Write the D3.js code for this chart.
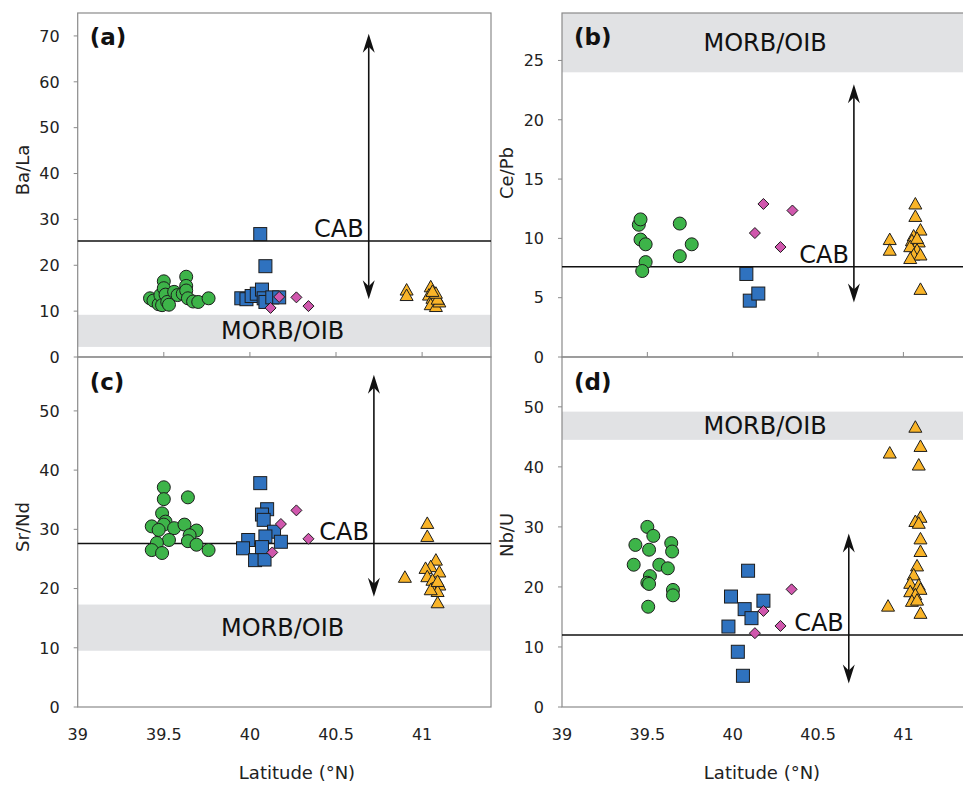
<!DOCTYPE html>
<html>
<head>
<meta charset="utf-8">
<script src="https://cdn.jsdelivr.net/npm/d3@7"></script>
<style>
  body { margin: 0; background: #fff; }
  svg { display: block; font-family: "DejaVu Sans", Verdana, sans-serif; }
</style>
</head>
<body>
<main></main>
<script>
// ---- data: [latitude, ratio] ----
const baLaGreen = [[39.42,12.8],[39.44,12.3],[39.47,11.5],[39.48,13.5],[39.49,11.3],[39.50,16.5],[39.50,15.0],[39.51,13.6],[39.52,12.0],[39.53,11.4],[39.56,14.2],[39.58,13.5],[39.61,13.8],[39.63,17.5],[39.63,15.5],[39.63,14.5],[39.64,12.8],[39.67,12.1],[39.70,12.0],[39.76,12.8]]
const baLaBlue = [[40.06,26.8],[40.09,19.8],[39.95,12.8],[39.98,12.6],[40.01,13.3],[40.04,13.8],[40.07,14.7],[40.08,12.8],[40.09,12.0],[40.13,13.0],[40.17,13.0]]
const baLaPink = [[40.12,10.7],[40.17,13.1],[40.27,13.0],[40.34,11.1]]
const baLaOrange = [[40.91,14.6],[40.91,13.4],[41.05,15.3],[41.04,13.5],[41.06,12.8],[41.07,12.2],[41.05,11.4],[41.08,11.0],[41.10,12.0],[41.09,12.6],[41.08,13.9],[41.06,14.3]]

const cePbGreen = [[39.45,11.15],[39.46,11.6],[39.46,9.9],[39.49,9.5],[39.49,8.0],[39.47,7.25],[39.69,11.25],[39.76,9.5],[39.69,8.5]]
const cePbBlue = [[40.08,7.0],[40.10,4.75],[40.15,5.35]]
const cePbPink = [[40.18,12.9],[40.13,10.45],[40.35,12.35],[40.28,9.27]]
const cePbOrange = [[40.92,9.9],[40.92,9.0],[41.07,12.9],[41.07,11.85],[41.10,10.7],[41.06,10.2],[41.05,9.8],[41.09,9.7],[41.04,9.3],[41.08,9.0],[41.06,8.6],[41.10,8.6],[41.04,8.3],[41.08,10.0],[41.10,5.7]]

const srNdGreen = [[39.50,37.1],[39.50,35.1],[39.64,35.4],[39.49,32.7],[39.51,31.3],[39.50,30.8],[39.43,30.5],[39.47,29.9],[39.56,30.2],[39.62,30.8],[39.69,29.8],[39.65,29.0],[39.53,28.2],[39.64,28.0],[39.46,27.7],[39.43,26.5],[39.49,26.0],[39.69,27.4],[39.76,26.5]]
const srNdBlue = [[40.06,37.8],[40.10,33.4],[40.07,32.5],[40.08,31.6],[40.14,29.6],[40.09,28.8],[40.18,27.9],[39.99,28.2],[39.96,26.8],[40.03,24.8],[40.085,24.9],[40.07,27.0]]
const srNdPink = [[40.27,33.2],[40.18,30.9],[40.34,28.4],[40.13,26.1]]
const srNdOrange = [[41.03,31.0],[41.03,28.8],[40.90,21.9],[41.08,24.8],[41.05,23.7],[41.02,23.4],[41.10,22.8],[41.03,22.0],[41.06,21.4],[41.10,20.6],[41.06,20.0],[41.09,19.5],[41.05,19.8],[41.09,21.2],[41.09,17.6]]

const nbUGreen = [[39.50,30.0],[39.535,28.5],[39.43,27.0],[39.64,27.3],[39.645,25.9],[39.51,26.2],[39.42,23.7],[39.57,23.7],[39.62,23.1],[39.515,21.8],[39.50,20.7],[39.51,20.5],[39.65,19.5],[39.65,18.6],[39.505,16.7]]
const nbUBlue = [[40.09,22.7],[39.99,18.4],[40.18,17.7],[40.07,16.3],[40.11,14.8],[39.975,13.4],[40.03,9.2],[40.06,5.2]]
const nbUPink = [[40.345,19.6],[40.18,16.0],[40.28,13.5],[40.13,12.3]]
const nbUOrange = [[41.07,46.6],[41.10,43.4],[40.92,42.3],[41.09,40.3],[41.10,31.6],[41.07,30.9],[41.09,30.6],[41.10,28.0],[41.10,25.9],[41.08,23.5],[41.06,22.0],[41.04,20.6],[41.09,20.3],[41.10,19.6],[41.04,19.2],[41.07,18.7],[41.05,17.6],[41.08,17.8],[41.10,15.6],[40.91,16.8]]

// reference values: CAB line, MORB/OIB band, arrow span [lat, from, to]
const cabValues = [25.3, 7.6, 27.6, 12.0]
const morbBands = [[2.2, 9.2], [24.0, 29], [9.5, 17.3], [44.5, 49.2]]
const arrowSpans = [[40.69, 70.5, 12.6], [40.71, 23.0, 4.6], [40.72, 56.1, 18.6], [40.68, 28.9, 3.9]]

const xTicks = [39, 39.5, 40, 40.5, 41]
const yTickSets = [d3.range(0, 71, 10), d3.range(0, 26, 5), d3.range(0, 51, 10), d3.range(0, 51, 10)]
const yMaxes = [75, 29, 59.1, 58.3]
const yTitles = ["Ba/La", "Ce/Pb", "Sr/Nd", "Nb/U"]
const panelLabels = ["(a)", "(b)", "(c)", "(d)"]

const colors = { green: "#3db449", blue: "#2f72bf", pink: "#d057ad", orange: "#f9b428" }

const W = 963, H = 785
const svg = d3.select("main").append("svg").attr("width", W).attr("height", H)

// plot boxes [left, right, top, bottom]
const boxes = [
  [77.7, 491, 13, 357],
  [562, 972, 13, 357],
  [77.7, 491, 357, 707],
  [562, 972, 357, 707],
]
const titleY = [170, 173, 527, 535]

const groups = [
  [baLaGreen, baLaBlue, baLaPink, baLaOrange],
  [cePbGreen, cePbBlue, cePbPink, cePbOrange],
  [srNdGreen, srNdBlue, srNdPink, srNdOrange],
  [nbUGreen, nbUBlue, nbUPink, nbUOrange],
]

const frameColor = "#8a8a8a"

boxes.forEach((b, i) => {
  const [l, r, t, btm] = b
  const x = d3.scaleLinear().domain([39, 41.4]).range([l, l + (r - l) * 1.0])
  // right panels are a bit wider than the page, so keep 41.4 at the same spacing
  if (i % 2 === 1) x.domain([39, 39 + (r - l) / 170.7])
  const y = d3.scaleLinear().domain([0, yMaxes[i]]).range([btm, t])
  const g = svg.append("g")

  // grey MORB/OIB band
  const band = morbBands[i]
  g.append("rect")
    .attr("x", l).attr("width", r - l)
    .attr("y", y(Math.min(band[1], yMaxes[i]))).attr("height", y(band[0]) - y(Math.min(band[1], yMaxes[i])))
    .attr("fill", "#e1e2e4")

  // frame
  g.append("rect")
    .attr("x", l).attr("y", t).attr("width", r - l).attr("height", btm - t)
    .attr("fill", "none").attr("stroke", frameColor).attr("stroke-width", 1.2)

  // y axis ticks + labels
  const yt = yTickSets[i]
  g.selectAll(".ytick").data(yt).enter().append("line")
    .attr("x1", l - 4).attr("x2", l)
    .attr("y1", (d) => y(d)).attr("y2", (d) => y(d))
    .attr("stroke", frameColor)
  g.selectAll(".ylab").data(yt).enter().append("text")
    .attr("x", l - 18).attr("y", (d) => y(d))
    .attr("dy", "0.36em")
    .attr("text-anchor", "end")
    .attr("font-size", "16px").attr("fill", "#222")
    .text((d) => d)

  // y title
  g.append("text")
    .attr("transform", `translate(${l - 55},${titleY[i]}) rotate(-90)`)
    .attr("text-anchor", "middle").attr("dy", "0.35em")
    .attr("font-size", "18px").attr("fill", "#222")
    .text(yTitles[i])

  // x ticks: small inward ticks on the upper panels, labels on the lower ones
  if (i < 2) {
    g.selectAll(".xtick").data(xTicks.slice(1)).enter().append("line")
      .attr("x1", (d) => x(d)).attr("x2", (d) => x(d))
      .attr("y1", btm - 5).attr("y2", btm)
      .attr("stroke", frameColor)
  } else {
    g.selectAll(".xlab").data(xTicks).enter().append("text")
      .attr("x", (d) => x(d)).attr("y", btm + 33)
      .attr("text-anchor", "middle")
      .attr("font-size", "16px").attr("fill", "#222")
      .text((d) => d)
    g.append("text")
      .attr("x", i === 2 ? 297 : 762).attr("y", 779)
      .attr("text-anchor", "middle")
      .attr("font-size", "18px").attr("fill", "#222")
      .text("Latitude (°N)")
  }

  // CAB line
  g.append("line")
    .attr("x1", l).attr("x2", r)
    .attr("y1", y(cabValues[i])).attr("y2", y(cabValues[i]))
    .attr("stroke", "#111").attr("stroke-width", 1.5)

  // double arrow
  const [al, a0, a1] = arrowSpans[i]
  const ax = x(al), ay0 = y(a0), ay1 = y(a1)
  g.append("line")
    .attr("x1", ax).attr("x2", ax).attr("y1", ay0 + 8).attr("y2", ay1 - 8)
    .attr("stroke", "#111").attr("stroke-width", 1.6)
  const head = (tipY, dir) =>
    `M${ax},${tipY} L${ax + 6},${tipY + dir * 19} L${ax},${tipY + dir * 13} L${ax - 6},${tipY + dir * 19} Z`
  g.append("path").attr("d", head(ay0, 1)).attr("fill", "#111")
  g.append("path").attr("d", head(ay1, -1)).attr("fill", "#111")

  // CAB text, right end just left of the arrow
  g.append("text")
    .attr("x", ax - 5).attr("y", y(cabValues[i]) - 4)
    .attr("text-anchor", "end")
    .attr("font-size", "24px").attr("fill", "#111")
    .text("CAB")

  // MORB/OIB text in the band
  const bandMid = (Math.max(y(Math.min(band[1], yMaxes[i])), t) + y(band[0])) / 2
  g.append("text")
    .attr("x", x(40.19)).attr("y", bandMid)
    .attr("dy", "0.36em")
    .attr("text-anchor", "middle")
    .attr("font-size", "24px").attr("fill", "#111")
    .text("MORB/OIB")

  // panel label
  g.append("text")
    .attr("x", l + 12).attr("y", t + (i < 2 ? 32 : 33))
    .attr("font-size", "23px").attr("font-weight", "bold").attr("fill", "#111")
    .text(panelLabels[i])

  // markers
  const [gr, bl, pk, orng] = groups[i]
  const pts = g.append("g").attr("stroke", "#1d1d1d").attr("stroke-width", 1)

  pts.selectAll(".green").data(gr).enter().append("circle")
    .attr("cx", (d) => x(d[0])).attr("cy", (d) => y(d[1])).attr("r", 6.5)
    .attr("fill", colors.green)

  pts.selectAll(".blue").data(bl).enter().append("rect")
    .attr("x", (d) => x(d[0]) - 6.5).attr("y", (d) => y(d[1]) - 6.5)
    .attr("width", 13).attr("height", 13)
    .attr("fill", colors.blue)

  pts.selectAll(".pink").data(pk).enter().append("path")
    .attr("d", (d) => {
      const cx = x(d[0]), cy = y(d[1]), s = 5.5
      return `M${cx},${cy - s} L${cx + s},${cy} L${cx},${cy + s} L${cx - s},${cy} Z`
    })
    .attr("fill", colors.pink)

  pts.selectAll(".orange").data(orng).enter().append("path")
    .attr("d", (d) => {
      const cx = x(d[0]), cy = y(d[1])
      return `M${cx},${cy - 6.5} L${cx + 6.5},${cy + 5} L${cx - 6.5},${cy + 5} Z`
    })
    .attr("fill", colors.orange)
})
</script>
</body>
</html>
